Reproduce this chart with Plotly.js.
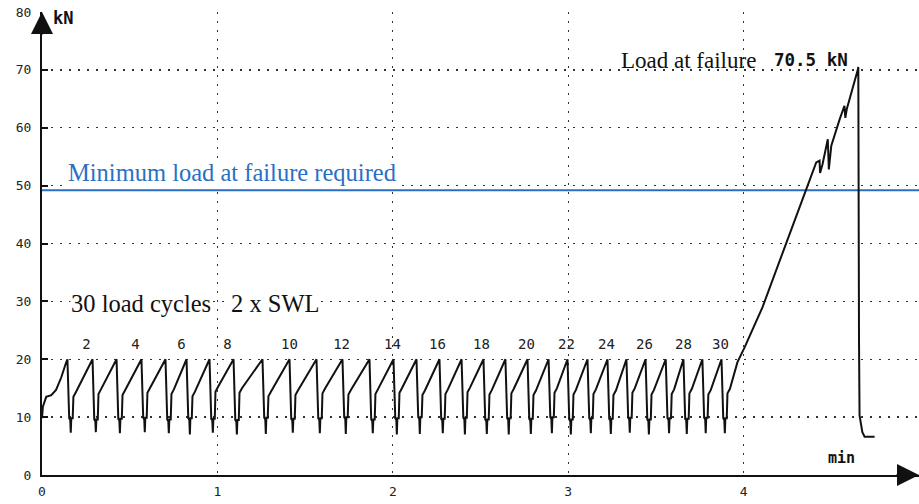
<!DOCTYPE html>
<html>
<head>
<meta charset="utf-8">
<script src="https://cdn.plot.ly/plotly-3.0.1.min.js"></script>
<style>html,body{margin:0;padding:0;background:#fff;}#chart{width:919px;height:504px;}</style>
</head>
<body>
<div id="chart"></div>
<script>
// ---- data (time in min, load in kN) ----
// initial loading before the first peak
var startT  = [0.000, 0.005, 0.024, 0.053, 0.080, 0.109, 0.137];
var startKN = [9.8,   11.8,  13.5,  13.8,  14.7,  16.8,  19.4];

// the 30 load cycles
var peakT  = [0.145,0.288,0.425,0.567,0.704,0.824,0.955,1.092,1.257,1.411,
              1.565,1.713,1.867,2.004,2.135,2.266,2.392,2.517,2.642,2.768,
              2.888,2.996,3.110,3.224,3.332,3.441,3.556,3.657,3.765,3.874];
var peakKN = [20,20,20,20,20,20,20,20,20,20, 20,20,20,20,20,20,20,20,20,20, 20,20,20,20,20,20,20,20,20,20];
var dropKN = [9.8,9.6,9.7,9.9,9.6,9.8,9.7,9.5,9.9,9.7, 9.8,10.0,9.6,9.8,10.0,9.7,9.9,9.6,9.8,9.7, 10.0,9.6,9.8,9.7,9.9,9.6,9.8,9.7,9.9,9.8];
var minKN  = [7.3,7.4,7.2,7.4,7.2,7.0,7.3,7.0,7.1,7.3, 7.2,7.1,7.2,7.0,7.1,7.2,7.0,7.1,7.0,7.1, 7.2,7.0,7.2,7.1,7.3,7.0,7.2,7.1,7.2,7.2];
var reloadKN = [13.5,14.0,13.8,14.2,14.0,13.6,14.4,14.2,13.6,13.8, 14.1,13.9,14.0,14.2,13.8,14.0,14.3,13.9,14.1,13.8, 14.2,13.9,14.0,13.8,14.2,13.9,14.0,14.1,13.9,14.1];
// time marks inside each unloading (min after the peak)
var unloadDt = [0.010, 0.016, 0.019, 0.022, 0.030, 0.034, 0.048];

// final ramp to failure and break
var rampT  = [3.932,3.965,4.005,4.108,4.230,4.358,4.414,4.433,4.436,4.450,4.480,4.486,4.500,4.547,4.575,4.580,4.588,4.651,4.654,4.658,4.661,4.677,4.690,4.747];
var rampKN = [15.9, 19.5, 22.0, 29.0, 39.0, 49.4, 54.0, 54.3, 52.2, 53.7, 58.0, 52.8, 56.9, 61.4, 63.8, 61.7, 63.2, 70.0, 70.5, 23.0, 10.3, 7.4, 6.6, 6.6];

// minimum required load line
var minReqT  = [0, 5];
var minReqKN = [49.2, 49.2];

// cycle number labels
var cycleLabels = ['2','4','6','8','10','12','14','16','18','20','22','24','26','28','30'];
var cycleLabelT = [0.254,0.533,0.795,1.058,1.411,1.708,1.998,2.255,2.506,2.762,2.990,3.218,3.435,3.657,3.868];
var cycleLabelKN = [22.4,22.4,22.4,22.4,22.4,22.4,22.4,22.4,22.4,22.4,22.4,22.4,22.4,22.4,22.4];

var xTicks = [0,1,2,3,4,5];
var yTicks = [0,10,20,30,40,50,60,70,80];

// ---- build the load curve from the read values ----
var curveT = startT.slice(), curveKN = startKN.slice();
for (var i = 0; i < peakT.length; i++) {
  var p = peakT[i];
  var seqKN = [dropKN[i], dropKN[i] - 0.3, minKN[i], dropKN[i], dropKN[i], reloadKN[i], reloadKN[i] + 0.8];
  curveT.push(p); curveKN.push(peakKN[i]);
  for (var k = 0; k < unloadDt.length; k++) { curveT.push(p + unloadDt[k]); curveKN.push(seqKN[k]); }
}
curveT = curveT.concat(rampT); curveKN = curveKN.concat(rampKN);

var mono = 'DejaVu Sans Mono';
var serif = 'Liberation Serif';
var blue = '#2a6fc4';

var traces = [
  {x: minReqT, y: minReqKN, mode: 'lines', line: {color: blue, width: 2}, hoverinfo: 'skip'},
  {x: curveT, y: curveKN, mode: 'lines', line: {color: '#111', width: 2}, hoverinfo: 'skip'},
  {x: cycleLabelT, y: cycleLabelKN, mode: 'text', text: cycleLabels,
   textfont: {family: mono, size: 14, color: '#222'}, hoverinfo: 'skip'}
];

var grid = {showgrid: true, gridcolor: '#333', gridwidth: 1.4, griddash: '2px,7px'};

var layout = {
  width: 919, height: 504,
  margin: {l: 42, r: 0, t: 12, b: 29, pad: 0},
  paper_bgcolor: '#fff', plot_bgcolor: '#fff',
  showlegend: false,
  xaxis: Object.assign({
    range: [0, 5], tickvals: xTicks, ticktext: xTicks.map(String),
    showline: true, linecolor: '#111', linewidth: 2, zeroline: false,
    ticks: '', ticklabelstandoff: 3,
    tickfont: {family: mono, size: 13, color: '#222'}, fixedrange: true
  }, grid),
  yaxis: Object.assign({
    range: [0, 80], tickvals: yTicks, ticktext: yTicks.map(String),
    showline: true, linecolor: '#111', linewidth: 2, zeroline: false,
    ticks: 'inside', ticklen: 6, tickwidth: 2, tickcolor: '#111', ticklabelstandoff: 6,
    tickfont: {family: mono, size: 13, color: '#222'}, fixedrange: true
  }, grid),
  annotations: [
    {x: 0, y: 80, xref: 'x', yref: 'y', ax: 0, ay: 24, showarrow: true, arrowhead: 2,
     arrowsize: 2.2, arrowwidth: 2, arrowcolor: '#111', text: ''},
    {x: 5, y: 0, xref: 'x', yref: 'y', ax: -24, ay: 0, showarrow: true, arrowhead: 2,
     arrowsize: 2.2, arrowwidth: 2, arrowcolor: '#111', text: ''},
    {x: 0.12, y: 78.9, xref: 'x', yref: 'y', text: '<b>kN</b>', showarrow: false,
     font: {family: mono, size: 17, color: '#111'}},
    {x: 0.145, y: 49.2, xref: 'x', yref: 'y', xanchor: 'left', yanchor: 'bottom', yshift: 3,
     text: 'Minimum load at failure required',
     showarrow: false, font: {family: serif, size: 24.5, color: blue}, bgcolor: '#fff', borderpad: 0},
    {x: 0.157, y: 29.7, xref: 'x', yref: 'y', xanchor: 'left', text: '30 load cycles',
     showarrow: false, font: {family: serif, size: 24.5, color: '#111'}, bgcolor: '#fff', borderpad: 0},
    {x: 1.069, y: 29.7, xref: 'x', yref: 'y', xanchor: 'left', text: '2 x SWL',
     showarrow: false, font: {family: serif, size: 24.5, color: '#111'}, bgcolor: '#fff', borderpad: 0},
    {x: 3.687, y: 71.7, xref: 'x', yref: 'y', text: 'Load at failure',
     showarrow: false, font: {family: serif, size: 23, color: '#111'}},
    {x: 4.387, y: 71.7, xref: 'x', yref: 'y', text: '<b>70.5 kN</b>',
     showarrow: false, font: {family: mono, size: 17.5, color: '#111'}},
    {x: 4.558, y: 3.0, xref: 'x', yref: 'y', text: '<b>min</b>',
     showarrow: false, font: {family: mono, size: 15, color: '#111'}}
  ]
};

Plotly.newPlot('chart', traces, layout, {displayModeBar: false, staticPlot: true});
</script>
</body>
</html>
